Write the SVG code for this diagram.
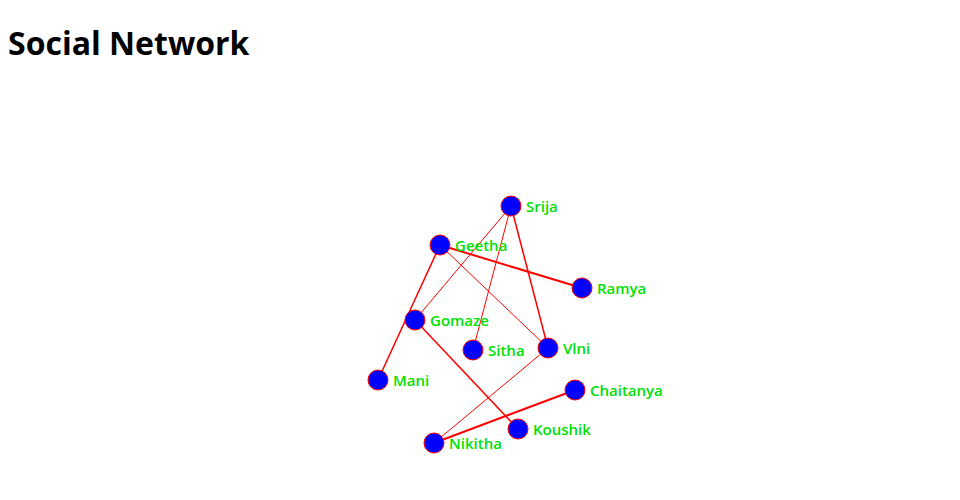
<svg xmlns="http://www.w3.org/2000/svg" width="960" height="500" viewBox="0 0 960 500">
<style>
.title{font-family:"Open Sans","Liberation Sans",sans-serif;font-weight:700;font-size:32px;fill:#000}
.node circle{fill:#0000ff;stroke:#ff0000;stroke-width:1}
.node text{font-family:"Open Sans","Liberation Sans",sans-serif;font-weight:600;font-size:15px;fill:#00e000}
.links line{stroke:#ff0000;fill:none}
</style>
<rect width="960" height="500" fill="#fff"/>
<text class="title" x="8" y="55">Social Network</text>
<g id="links" class="links">
<line x1="511" y1="206" x2="415" y2="320" stroke-width="1"/>
<line x1="511" y1="206" x2="473" y2="350" stroke-width="1"/>
<line x1="511" y1="206" x2="548" y2="348" stroke-width="1.5"/>
<line x1="440" y1="245" x2="582" y2="288" stroke-width="2"/>
<line x1="440" y1="245" x2="378" y2="380" stroke-width="1.5"/>
<line x1="440" y1="245" x2="548" y2="348" stroke-width="1"/>
<line x1="415" y1="320" x2="518" y2="429" stroke-width="1.5"/>
<line x1="548" y1="348" x2="434" y2="443" stroke-width="1"/>
<line x1="575" y1="390" x2="434" y2="443" stroke-width="2"/>
</g>
<g id="node-srija" class="node"><circle cx="511" cy="206" r="10"/><text x="526" y="212">Srija</text></g>
<g id="node-geetha" class="node"><circle cx="440" cy="245" r="10"/><text x="455" y="251">Geetha</text></g>
<g id="node-ramya" class="node"><circle cx="582" cy="288" r="10"/><text x="597" y="294">Ramya</text></g>
<g id="node-gomaze" class="node"><circle cx="415" cy="320" r="10"/><text x="430" y="326">Gomaze</text></g>
<g id="node-sitha" class="node"><circle cx="473" cy="350" r="10"/><text x="488" y="356">Sitha</text></g>
<g id="node-vlni" class="node"><circle cx="548" cy="348" r="10"/><text x="563" y="354">Vlni</text></g>
<g id="node-mani" class="node"><circle cx="378" cy="380" r="10"/><text x="393" y="386">Mani</text></g>
<g id="node-chaitanya" class="node"><circle cx="575" cy="390" r="10"/><text x="590" y="396">Chaitanya</text></g>
<g id="node-koushik" class="node"><circle cx="518" cy="429" r="10"/><text x="533" y="435">Koushik</text></g>
<g id="node-nikitha" class="node"><circle cx="434" cy="443" r="10"/><text x="449" y="449">Nikitha</text></g>
</svg>
